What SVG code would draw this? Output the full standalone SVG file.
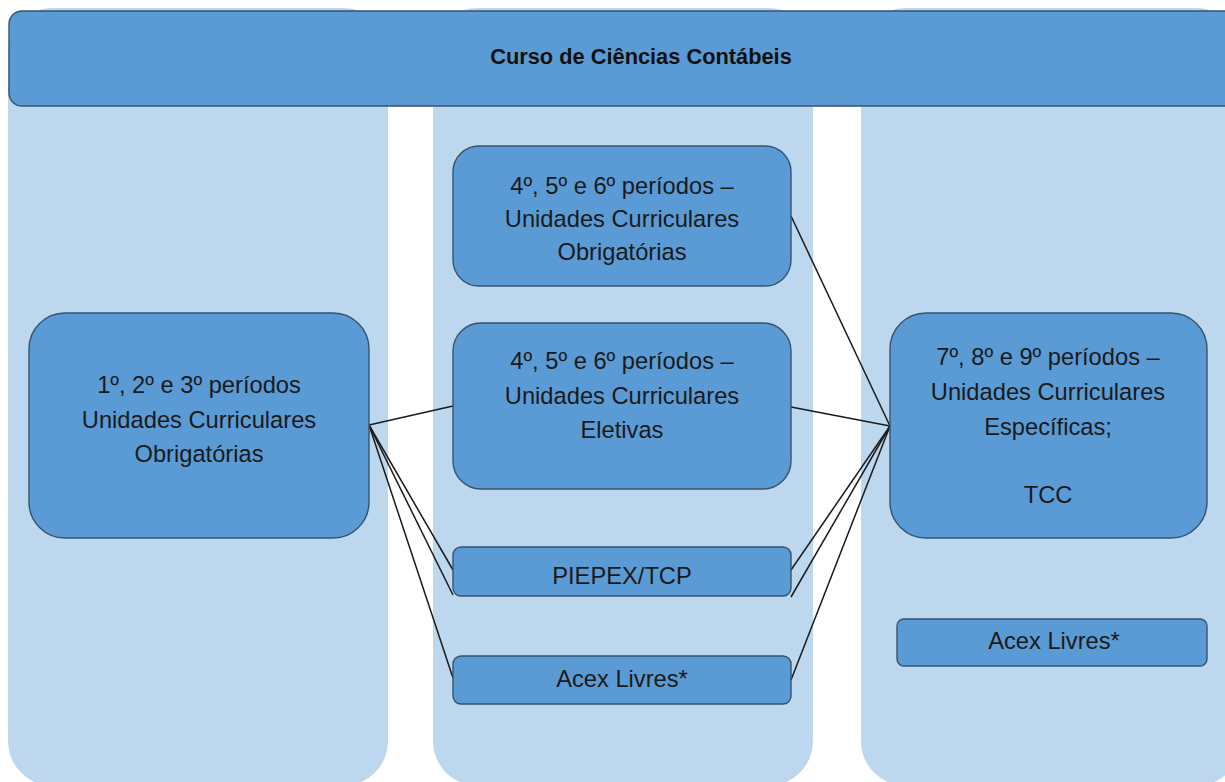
<svg xmlns="http://www.w3.org/2000/svg" width="1225" height="782" viewBox="0 0 1225 782">
  <style>
    .col { fill: #BDD7EE; }
    .node { fill: #5B9BD5; stroke: #34546F; stroke-width: 1.4; }
    .txt { font-family: "Liberation Sans", Arial, sans-serif; font-size: 23.7px; fill: #1a1a1a; text-anchor: middle; }
    .title { font-family: "Liberation Sans", Arial, sans-serif; font-size: 21.8px; font-weight: bold; fill: #111; text-anchor: middle; }
    .conn line { stroke: #1a1a1a; stroke-width: 1.5; }
  </style>
  <rect width="1225" height="782" fill="#ffffff"/>
  <g id="columns">
    <rect class="col" x="8" y="8" width="380" height="778" rx="45"/>
    <rect class="col" x="433" y="8" width="380" height="778" rx="45"/>
    <rect class="col" x="861" y="8" width="380" height="778" rx="45"/>
  </g>
  <g id="header">
    <rect class="node" x="9" y="11" width="1240" height="95" rx="13"/>
    <text class="title" x="641" y="64">Curso de Ciências Contábeis</text>
  </g>
  <g class="conn" id="connectors">
    <line x1="369" y1="425" x2="453" y2="406"/>
    <line x1="369" y1="425" x2="453" y2="570"/>
    <line x1="369" y1="425" x2="453" y2="595"/>
    <line x1="369" y1="425" x2="453" y2="678"/>
    <line x1="791" y1="216" x2="890" y2="426"/>
    <line x1="791" y1="407" x2="890" y2="426"/>
    <line x1="791" y1="570" x2="890" y2="426"/>
    <line x1="791" y1="597" x2="890" y2="426"/>
    <line x1="791" y1="680" x2="890" y2="426"/>
  </g>
  <g id="node-1a3">
    <rect class="node" x="29" y="313" width="340" height="225" rx="36"/>
    <text class="txt" x="199" y="393">1º, 2º e 3º períodos</text>
    <text class="txt" x="199" y="428">Unidades Curriculares</text>
    <text class="txt" x="199" y="462">Obrigatórias</text>
  </g>
  <g id="node-obrig-4a6">
    <rect class="node" x="453" y="146" width="338" height="140" rx="26"/>
    <text class="txt" x="622" y="194">4º, 5º e 6º períodos –</text>
    <text class="txt" x="622" y="227">Unidades Curriculares</text>
    <text class="txt" x="622" y="260">Obrigatórias</text>
  </g>
  <g id="node-eletivas-4a6">
    <rect class="node" x="453" y="323" width="338" height="166" rx="28"/>
    <text class="txt" x="622" y="369">4º, 5º e 6º períodos –</text>
    <text class="txt" x="622" y="404">Unidades Curriculares</text>
    <text class="txt" x="622" y="438">Eletivas</text>
  </g>
  <g id="node-piepex">
    <rect class="node" x="453" y="547" width="338" height="49" rx="8"/>
    <text class="txt" x="622" y="584">PIEPEX/TCP</text>
  </g>
  <g id="node-acex-mid">
    <rect class="node" x="453" y="656" width="338" height="48" rx="8"/>
    <text class="txt" x="622" y="687">Acex Livres*</text>
  </g>
  <g id="node-7a9">
    <rect class="node" x="890" y="313" width="317" height="225" rx="36"/>
    <text class="txt" x="1048" y="365">7º, 8º e 9º períodos –</text>
    <text class="txt" x="1048" y="400">Unidades Curriculares</text>
    <text class="txt" x="1048" y="435">Específicas;</text>
    <text class="txt" x="1048" y="503">TCC</text>
  </g>
  <g id="node-acex-right">
    <rect class="node" x="897" y="619" width="310" height="47" rx="7"/>
    <text class="txt" x="1054" y="649">Acex Livres*</text>
  </g>
</svg>
